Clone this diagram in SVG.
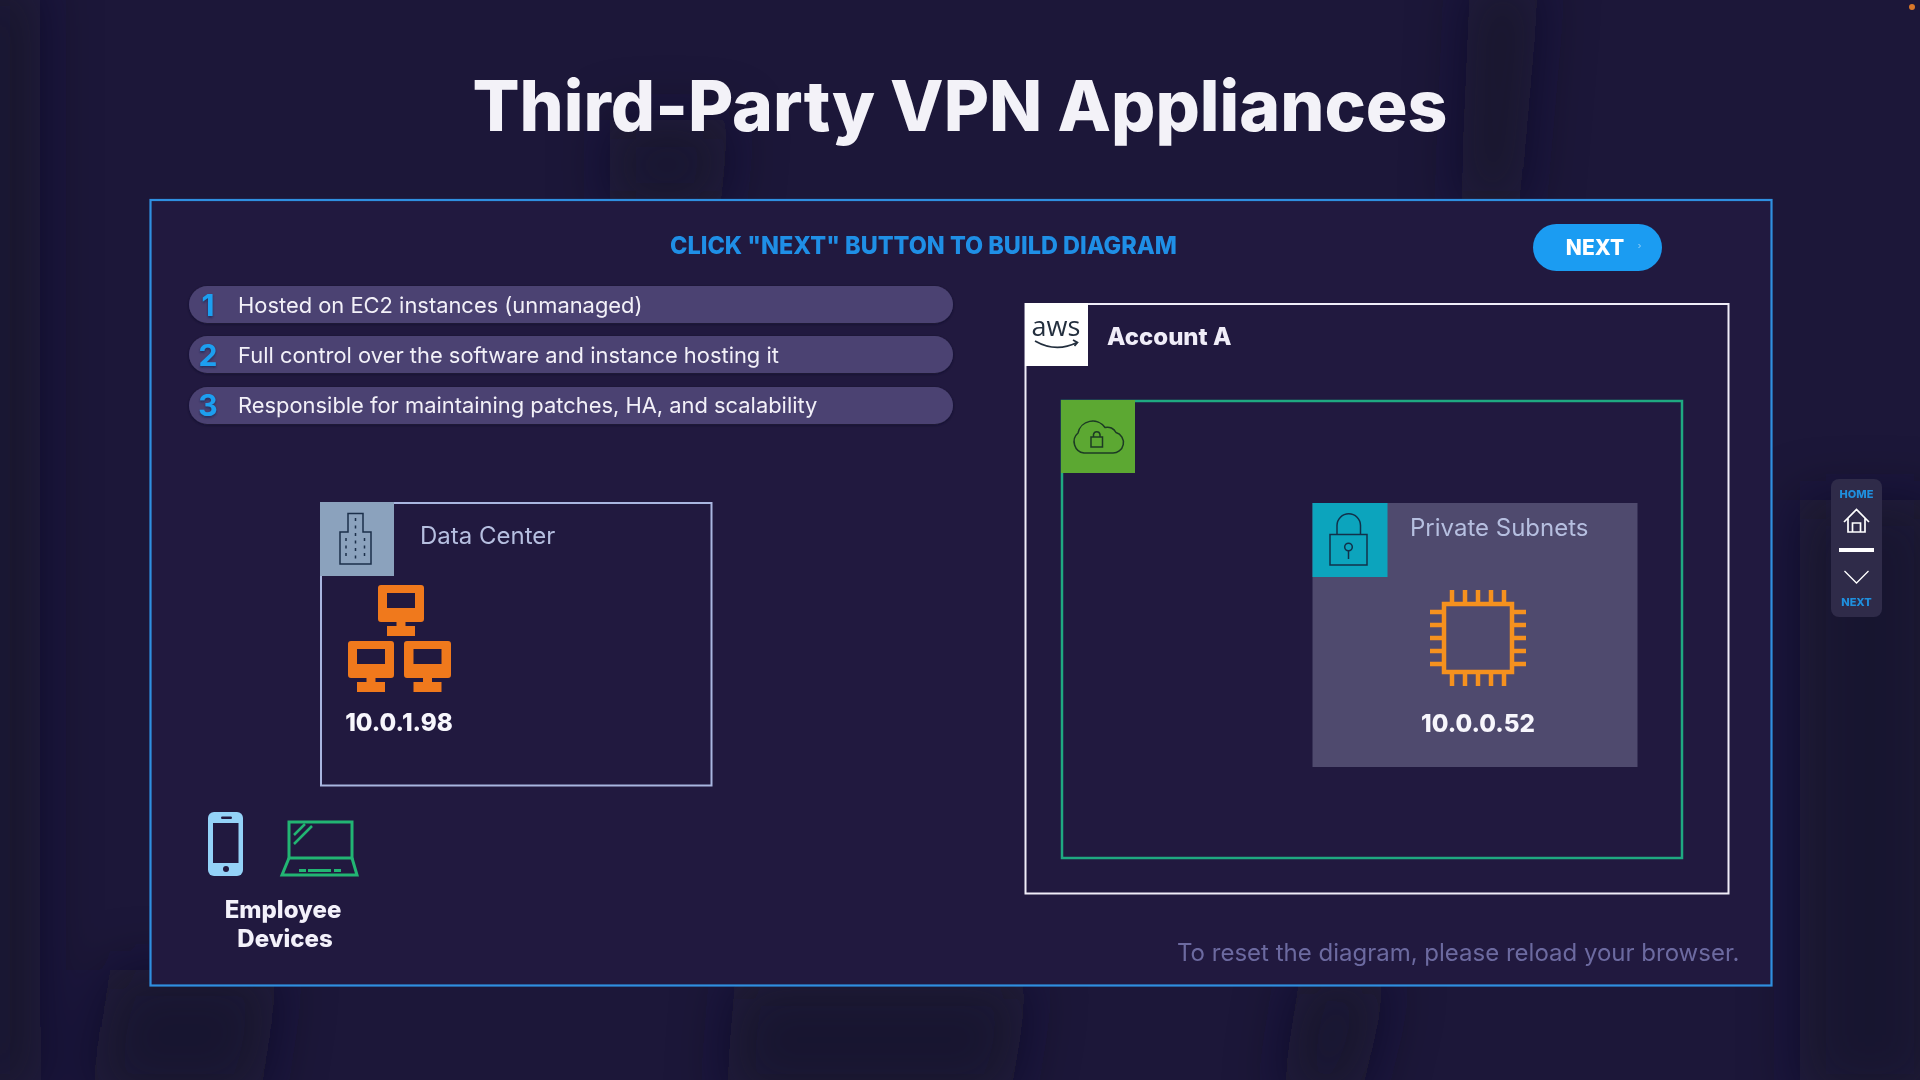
<svg xmlns="http://www.w3.org/2000/svg" width="1920" height="1080" viewBox="0 0 1920 1080">
<defs>
<filter id="blur" filterUnits="userSpaceOnUse" x="-100" y="-100" width="2120" height="1280"><feGaussianBlur stdDeviation="28"/></filter>
<filter id="soft" x="-10%" y="-20%" width="120%" height="150%"><feDropShadow dx="0" dy="1" stdDeviation="1.500" flood-color="#120e28" flood-opacity="0.600"/></filter>
<filter id="numshadow" x="-50%" y="-20%" width="200%" height="150%"><feDropShadow dx="0" dy="1.500" stdDeviation="1" flood-color="#0d2250" flood-opacity="0.700"/></filter>
</defs>
<style>
text{font-family:"Inter","Liberation Sans",sans-serif}
.title{font-size:70px;font-weight:800;fill:#f3f2f8;text-anchor:middle}
.pill{fill:#4b4372}
.pilltxt{font-size:21.900px;font-weight:400;fill:#f2f0f8}
.num{font-size:30px;font-weight:700;fill:#1f9ff0;text-anchor:middle}
.lbl{font-size:24px;font-weight:400;fill:#b6bfe0}
.ip{font-size:24.200px;font-weight:800;fill:#f7f6fc;text-anchor:middle}
.dev{font-size:24px;font-weight:800;fill:#f3f1fa;text-anchor:middle}
.nav{font-size:11px;font-weight:800;fill:#1f8fdd;text-anchor:middle}
.ln{fill:none;stroke-linejoin:miter}
.streak{fill:#13122a;opacity:.55}
</style>
<rect width="1920" height="1080" fill="#1c1739"/>
<g id="background-streaks" filter="url(#blur)">
<path class="streak" d="M735 980h295l-20 120h-285z"/>
<path class="streak" d="M110 970h170l-20 130h-170z"/>
<path class="streak" d="M1470 -20h70l-20 230h-60z"/>
<path class="streak" d="M610 120h120l-10 90h-110z"/>
<path class="streak" d="M1800 500h140v600h-140z" opacity=".2"/>
<path class="streak" d="M1300 975h90l-30 125h-80z" opacity=".3"/>
<path class="streak" d="M-40 -20h80v1120h-80z" opacity=".2"/>
</g>
<circle cx="1912" cy="7" r="3" fill="#d8772a"/>
<text class="title" x="960" y="131" textLength="975" lengthAdjust="spacingAndGlyphs">Third-Party VPN Appliances</text>
<g id="frame">
<rect x="150.500" y="200" width="1621" height="785.500" fill="#21193f" stroke="#2f8fe0" stroke-width="2.200"/>
<text x="923.500" y="254" text-anchor="middle" font-size="25" font-weight="800" fill="#1f8fe6" textLength="507" lengthAdjust="spacingAndGlyphs">CLICK "NEXT" BUTTON TO BUILD DIAGRAM</text>
</g>
<g id="next-button">
<rect x="1533" y="224" width="129" height="47" rx="23.500" fill="#1b9cf2"/>
<text x="1595" y="255" text-anchor="middle" font-size="21" font-weight="800" fill="#fff">NEXT</text>
<path d="M1638.500 244l2 2-2 2" class="ln" stroke="#9fd6fa" stroke-width="1"/>
</g>
<g id="point-1">
<rect class="pill" filter="url(#soft)" x="189" y="286" width="764" height="37" rx="18.500"/>
<text class="num" filter="url(#numshadow)" x="208" y="315.500">1</text>
<text class="pilltxt" x="238" y="312.500">Hosted on EC2 instances (unmanaged)</text>
</g>
<g id="point-2">
<rect class="pill" filter="url(#soft)" x="189" y="336" width="764" height="37" rx="18.500"/>
<text class="num" filter="url(#numshadow)" x="208" y="365.500">2</text>
<text class="pilltxt" x="238" y="362.500">Full control over the software and instance hosting it</text>
</g>
<g id="point-3">
<rect class="pill" filter="url(#soft)" x="189" y="387" width="764" height="37" rx="18.500"/>
<text class="num" filter="url(#numshadow)" x="208" y="415.500">3</text>
<text class="pilltxt" x="238" y="413">Responsible for maintaining patches, HA, and scalability</text>
</g>
<g id="data-center">
<rect x="321" y="503" width="390.500" height="282.500" fill="none" stroke="#a9b6e0" stroke-width="2"/>
<rect x="320" y="502" width="74" height="74" fill="#8ba2bd"/>
<path d="M348 513.500h15v18.500h8v32h-31v-32h8z" class="ln" stroke="#1b2f4a" stroke-width="1.500"/>
<path d="M355.500 518v42M346 538v22M364.500 538v22" class="ln" stroke="#1b2f4a" stroke-width="1.500" stroke-dasharray="3 4.500"/>
<text class="lbl" x="420" y="544">Data Center</text>
<g fill="#f0791c">
<path fill-rule="evenodd" d="M381 585h40a3 3 0 0 1 3 3v31a3 3 0 0 1-3 3h-15.500v4h9.500v10h-28v-10h9.500v-4h-15.500a3 3 0 0 1-3-3v-31a3 3 0 0 1 3-3zM387 593v15h28v-15z"/>
<path fill-rule="evenodd" d="M351 641h40a3 3 0 0 1 3 3v31a3 3 0 0 1-3 3h-15.500v4h9.500v10h-28v-10h9.500v-4h-15.500a3 3 0 0 1-3-3v-31a3 3 0 0 1 3-3zM357 649v15h28v-15z"/>
<path fill-rule="evenodd" d="M407 641h41a3 3 0 0 1 3 3v31a3 3 0 0 1-3 3h-16v4h9.500v10h-28v-10h9.500v-4h-16a3 3 0 0 1-3-3v-31a3 3 0 0 1 3-3zM413.500 649v15h28v-15z"/>
</g>
<text class="ip" x="399" y="731">10.0.1.98</text>
</g>
<g id="employee-devices">
<rect x="208" y="812" width="35" height="64" rx="6" fill="#94d2f7"/>
<rect x="213" y="823" width="25.500" height="40" fill="#21193f"/>
<rect x="221" y="816.500" width="11" height="2.500" rx="1.200" fill="#21193f"/>
<circle cx="226" cy="869" r="3" fill="#21193f"/>
<g stroke="#22b573" stroke-width="3" fill="none">
<rect x="289" y="822" width="63" height="36"/>
<path d="M289 858l-7 17h75l-5-17"/>
<path d="M294 835l11-11M294 844l18-18" stroke-width="2.500"/>
</g>
<path d="M299 869h7v3h-7zM308 869h23v3h-23zM334 869h7v3h-7z" fill="#22b573"/>
<text class="dev" x="283" y="918">Employee</text>
<text class="dev" x="285" y="947">Devices</text>
</g>
<g id="account-a">
<rect x="1025.500" y="304" width="703" height="589.500" fill="none" stroke="#f0edf8" stroke-width="2"/>
<rect x="1025" y="303" width="63" height="63" fill="#fff"/>
<text x="1056" y="336" text-anchor="middle" font-size="27" fill="#232f3e" style="font-family:'Open Sans','Liberation Sans',sans-serif">aws</text>
<path d="M1035 341q21 12 42 1.500M1073 340l4.500 2.500-3 3.500" class="ln" stroke="#232f3e" stroke-width="1.700"/>
<text x="1107" y="345" font-size="24" font-weight="800" fill="#f0edf8">Account A</text>
</g>
<g id="vpc">
<rect x="1062" y="401" width="620" height="457" fill="none" stroke="#1fa981" stroke-width="2.500"/>
<rect x="1061" y="400" width="74" height="73" fill="#5ca832"/>
<path d="M1084 453h28a10.500 10.500 0 0 0 4-20.500 9.500 9.500 0 0 0-11-5 15 15 0 0 0-27 5.500 11.500 11.500 0 0 0 6 20z" class="ln" stroke="#1c3b24" stroke-width="1.500"/>
<rect x="1091" y="437" width="11.500" height="10" class="ln" stroke="#1c3b24" stroke-width="1.500"/>
<path d="M1093.500 437v-2.500a3.300 3.300 0 0 1 6.500 0v2.500" class="ln" stroke="#1c3b24" stroke-width="1.500"/>
</g>
<g id="private-subnets">
<rect x="1312.500" y="503" width="325" height="264" fill="#4f4a6e"/>
<rect x="1312.500" y="503" width="75" height="74" fill="#0ca4bd"/>
<rect x="1330" y="534.500" width="37" height="30.500" class="ln" stroke="#12304a" stroke-width="1.500"/>
<path d="M1337 534.500v-9a11.500 11.500 0 0 1 23.500 0v9" class="ln" stroke="#12304a" stroke-width="1.500"/>
<circle cx="1348.500" cy="547" r="3.800" class="ln" stroke="#12304a" stroke-width="1.500"/>
<path d="M1348.500 551v8" class="ln" stroke="#12304a" stroke-width="1.500"/>
<text class="lbl" x="1410" y="536">Private Subnets</text>
<rect x="1444" y="604" width="68" height="68" class="ln" stroke="#f5911e" stroke-width="4.500"/>
<path d="M1452 590v12M1465 590v12M1478 590v12M1491 590v12M1504 590v12M1452 674v12M1465 674v12M1478 674v12M1491 674v12M1504 674v12M1430 612h12M1430 625h12M1430 638h12M1430 651h12M1430 664h12M1514 612h12M1514 625h12M1514 638h12M1514 651h12M1514 664h12" class="ln" stroke="#f5911e" stroke-width="4.500"/>
<text class="ip" x="1478" y="732">10.0.0.52</text>
</g>
<text id="reset-note" x="1177" y="961" font-size="24" fill="#6c6aa0">To reset the diagram, please reload your browser.</text>
<g id="nav">
<rect x="1831" y="479" width="51" height="138" rx="8" fill="#2f2b49"/>
<text class="nav" x="1856.500" y="498">HOME</text>
<path d="M1844 522l12.500-12.500 12.500 12.500M1848 518v14h17v-14M1852.500 532v-9h8v9" class="ln" stroke="#fff" stroke-width="1.700"/>
<rect x="1839" y="548" width="35" height="4" fill="#fff"/>
<path d="M1844.500 571l12 12 12-12" class="ln" stroke="#fff" stroke-width="1.300"/>
<text class="nav" x="1856.500" y="606">NEXT</text>
</g>
</svg>
